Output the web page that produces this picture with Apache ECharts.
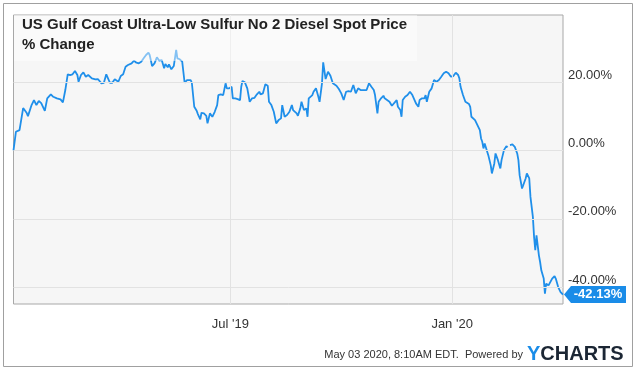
<!DOCTYPE html>
<html><head><meta charset="utf-8">
<script src="https://cdn.jsdelivr.net/npm/echarts@6/dist/echarts.min.js"></script>
<style>html,body{margin:0;padding:0;background:#fff}#c{width:640px;height:371px}</style>
</head><body><div id="c"></div>
<script>
const titleText = 'US Gulf Coast Ultra-Low Sulfur No 2 Diesel Spot Price\n% Change';
const footerText = 'May 03 2020, 8:10AM EDT.  Powered by';
const brandY = 'Y';
const brandRest = 'CHARTS';

const dates = [
  '2019-01-02','2019-01-04','2019-01-07','2019-01-10','2019-01-13','2019-01-14','2019-01-17','2019-01-19','2019-01-21','2019-01-23','2019-01-25','2019-01-26','2019-01-28','2019-01-30','2019-01-31',
  '2019-02-02','2019-02-04','2019-02-07','2019-02-10','2019-02-12','2019-02-14','2019-02-16','2019-02-18','2019-02-20','2019-02-22','2019-02-24','2019-02-25','2019-02-27',
  '2019-03-01','2019-03-03','2019-03-05','2019-03-08','2019-03-11','2019-03-13','2019-03-16','2019-03-18','2019-03-20','2019-03-23','2019-03-25','2019-03-27','2019-03-30',
  '2019-04-01','2019-04-03','2019-04-05','2019-04-07','2019-04-10','2019-04-12','2019-04-14','2019-04-16','2019-04-18','2019-04-20','2019-04-22','2019-04-24','2019-04-25','2019-04-27','2019-04-29',
  '2019-05-01','2019-05-03','2019-05-05','2019-05-07','2019-05-08','2019-05-10','2019-05-11','2019-05-13','2019-05-15','2019-05-17','2019-05-18','2019-05-20','2019-05-22','2019-05-24','2019-05-26','2019-05-29','2019-05-30',
  '2019-06-01','2019-06-03','2019-06-04','2019-06-06','2019-06-07','2019-06-09','2019-06-11','2019-06-12','2019-06-14','2019-06-16','2019-06-18','2019-06-20','2019-06-21','2019-06-23','2019-06-25','2019-06-27','2019-06-28','2019-06-30',
  '2019-07-02','2019-07-03','2019-07-05','2019-07-07','2019-07-09','2019-07-10','2019-07-11','2019-07-13','2019-07-15','2019-07-17','2019-07-19','2019-07-21','2019-07-23','2019-07-25','2019-07-26','2019-07-28','2019-07-30',
  '2019-08-01','2019-08-02','2019-08-04','2019-08-06','2019-08-08','2019-08-10','2019-08-12','2019-08-13','2019-08-15','2019-08-17','2019-08-19','2019-08-21','2019-08-22','2019-08-25','2019-08-26','2019-08-28','2019-08-29','2019-08-31',
  '2019-09-02','2019-09-03','2019-09-04','2019-09-07','2019-09-08','2019-09-10','2019-09-12','2019-09-13','2019-09-15','2019-09-16','2019-09-18','2019-09-20','2019-09-22','2019-09-23','2019-09-24','2019-09-27','2019-09-29',
  '2019-10-01','2019-10-03','2019-10-05','2019-10-07','2019-10-09','2019-10-11','2019-10-13','2019-10-15','2019-10-17','2019-10-19','2019-10-22','2019-10-24','2019-10-26','2019-10-28','2019-10-29','2019-10-31',
  '2019-11-01','2019-11-03','2019-11-05','2019-11-06','2019-11-08','2019-11-10','2019-11-12','2019-11-13','2019-11-16','2019-11-17','2019-11-19','2019-11-20','2019-11-21','2019-11-23','2019-11-25','2019-11-27','2019-11-29','2019-11-30',
  '2019-12-02','2019-12-04','2019-12-05','2019-12-07','2019-12-09','2019-12-10','2019-12-11','2019-12-13','2019-12-15','2019-12-17','2019-12-19','2019-12-21','2019-12-23','2019-12-25','2019-12-27','2019-12-29','2019-12-31',
  '2020-01-02','2020-01-04','2020-01-06','2020-01-07','2020-01-08','2020-01-10','2020-01-12','2020-01-15','2020-01-16','2020-01-17','2020-01-18','2020-01-20','2020-01-22','2020-01-24','2020-01-25','2020-01-26','2020-01-27','2020-01-28','2020-01-31',
  '2020-02-02','2020-02-03','2020-02-05','2020-02-06','2020-02-08','2020-02-10','2020-02-11','2020-02-13','2020-02-15','2020-02-16','2020-02-17','2020-02-18','2020-02-20','2020-02-22','2020-02-24','2020-02-25','2020-02-26','2020-02-28','2020-02-29',
  '2020-03-02','2020-03-03','2020-03-04','2020-03-05','2020-03-06','2020-03-08','2020-03-09','2020-03-10','2020-03-11','2020-03-12','2020-03-13','2020-03-14','2020-03-15','2020-03-17','2020-03-18','2020-03-19','2020-03-21','2020-03-22','2020-03-24','2020-03-26','2020-03-27','2020-03-29','2020-03-31',
  '2020-04-02'
];
const values = [
  0,5.45,5.94,12.39,10.92,10.04,13.26,14.73,13.26,14.44,13.85,14.23,11.60,15.23,14.73,
  16.40,15.69,15.23,14.93,14.05,17.66,22.25,22.05,22.25,23.22,22.05,20.09,22.05,
  22.84,21.55,22.05,21.08,20.79,20.88,19.62,19.79,22.25,19.79,19.79,20.79,20.09,
  21.76,22.25,24.48,24.98,25.47,26.24,25.65,25.47,25.94,26.94,27.90,28.58,27.90,24.68,25.47,
  27.23,26.24,26.44,24.01,25.27,24.30,25.18,23.72,24.68,29.37,26.94,26.65,25.94,19.79,20.58,20.58,19.79,
  12.77,11.60,10.63,9.08,11.01,10.83,10.13,7.91,10.83,9.84,11.30,13.26,16.19,16.40,16.19,19.62,18.15,18.15,
  18.62,15.23,15.23,15.02,14.73,18.62,20.29,19.91,18.15,14.23,15.23,15.40,16.40,17.16,16.40,16.69,19.33,
  18.92,14.23,13.26,11.30,7.91,8.87,9.37,13.26,9.84,10.34,11.30,13.26,11.80,10.83,10.13,12.30,14.23,11.80,
  12.30,9.84,15.23,16.19,17.16,18.15,15.69,14.23,19.62,25.77,20.88,23.02,21.84,21.26,19.62,18.92,17.95,
  16.69,14.73,17.16,17.36,17.16,19.12,16.69,18.15,17.66,17.66,17.66,19.62,18.62,17.66,16.19,10.83,
  14.23,15.23,15.99,15.23,14.73,14.23,13.06,12.77,14.73,12.77,11.80,9.84,14.73,15.69,16.19,17.16,16.19,16.19,
  13.76,12.77,14.73,15.23,15.23,16.19,14.23,17.16,18.15,20.58,20.09,20.58,21.55,22.55,23.02,22.55,21.55,
  21.76,22.72,22.05,21.08,18.62,16.19,14.23,13.56,12.77,9.84,10.34,8.87,7.41,5.94,3.51,2.52,0.59,2.05,-1.38,
  -4.30,-6.73,-3.81,-0.88,-2.84,-5.27,-2.84,0.09,1.26,0.88,null,1.55,1.76,1.05,-0.88,-2.84,-7.23,-11.13,-10.16,
  -8.20,-6.73,-6.56,-8.20,-13.59,-19.44,-25.30,-29.19,-24.80,-27.73,-30.66,-32.62,-35.05,-37.48,-41.87,-38.95,-39.44,-38.95,-37.48,-36.72,-37.48,-39.94,-41.40,
  -42.13
];
const yTickValues = [20, 0, -20, -40];
const yTickLabels = ['20.00%', '0.00%', '-20.00%', '-40.00%'];
const xTickDates = ['2019-07-01', '2020-01-01'];
const xTickLabels = ["Jul '19", "Jan '20"];
const lastLabel = '-42.13%';

const FONT = '"Liberation Sans", Arial, Helvetica, sans-serif';
const BLUE = '#1f8fea';
const tp = s => +echarts.time.parse(s);
const seriesData = dates.map((d, i) => [tp(d), values[i]]);
const last = seriesData[seriesData.length - 1];

const chart = echarts.init(document.getElementById('c'), null, { renderer: 'canvas' });
const gridLines = yTickValues.map((v, i) => ({ yAxis: v, label: { formatter: yTickLabels[i] + '\n ' } }))
  .concat(xTickDates.map((d, i) => ({
    xAxis: tp(d),
    label: { formatter: xTickLabels[i], position: 'start', distance: 13 }
  })));

chart.setOption({
  animation: false,
  backgroundColor: '#ffffff',
  textStyle: { fontFamily: FONT },
  title: {
    text: titleText, left: 14, top: 15, padding: [0, 10, 6, 8],
    backgroundColor: 'rgba(255,255,255,0.45)',
    textStyle: { fontSize: 15, fontWeight: 'bold', color: '#222', lineHeight: 20, fontFamily: FONT }
  },
  grid: { left: 13.5, right: 77, top: 15, bottom: 67, show: true, backgroundColor: '#f6f6f6', borderColor: '#a8a8a8', borderWidth: 1 },
  xAxis: {
    type: 'time', min: tp(dates[0]), max: tp(dates[dates.length - 1]),
    axisLine: { show: false }, axisTick: { show: false }, axisLabel: { show: false }, splitLine: { show: false }
  },
  yAxis: {
    type: 'value', min: -44.9, max: 39.6, position: 'right',
    axisLine: { show: false }, axisTick: { show: false }, axisLabel: { show: false }, splitLine: { show: false }
  },
  series: [
    {
      type: 'line', z: 1, data: [], silent: true, clip: false,
      markLine: {
        silent: true, symbol: ['none', 'none'], animation: false,
        lineStyle: { color: '#e2e2e2', width: 1, type: 'solid' },
        label: { position: 'end', distance: 5, color: '#333', fontSize: 13, lineHeight: 14, fontFamily: FONT },
        emphasis: { disabled: true },
        data: gridLines
      }
    },
    {
      type: 'line', z: 3, data: seriesData, showSymbol: false, connectNulls: false, clip: false,
      lineStyle: { color: BLUE, width: 1.8 }, itemStyle: { color: BLUE },
      emphasis: { disabled: true },
      markPoint: {
        silent: true, animation: false,
        symbol: 'path://M0,8.5L7,0L62,0L62,17L7,17Z',
        symbolSize: [62, 17], symbolKeepAspect: false, symbolOffset: [32, 0],
        itemStyle: { color: '#1a8ce8' },
        label: { show: true, position: 'inside', formatter: lastLabel, color: '#fff', fontSize: 13, fontWeight: 'bold', fontFamily: FONT, offset: [3, 0] },
        data: [{ coord: last, value: last[1] }]
      }
    }
  ],
  graphic: [
    { type: 'rect', silent: true, z: 100, shape: { x: 3.5, y: 3.5, width: 629, height: 363 }, style: { fill: 'none', stroke: '#a0a0a0', lineWidth: 1 } },
    { type: 'text', silent: true, z: 100, x: 523, y: 355, style: { text: footerText, align: 'right', verticalAlign: 'middle', fontSize: 11, fontFamily: FONT, fill: '#333' } },
    { type: 'text', silent: true, z: 100, x: 527, y: 354, style: {
        text: '{a|' + brandY + '}{b|' + brandRest + '}', verticalAlign: 'middle', align: 'left',
        rich: {
          a: { fontSize: 20, fontWeight: 'bold', fontFamily: FONT, fill: '#1a8ce8' },
          b: { fontSize: 20, fontWeight: 'bold', fontFamily: FONT, fill: '#1b2634' }
        }
    } }
  ]
});
</script>
</body></html>
